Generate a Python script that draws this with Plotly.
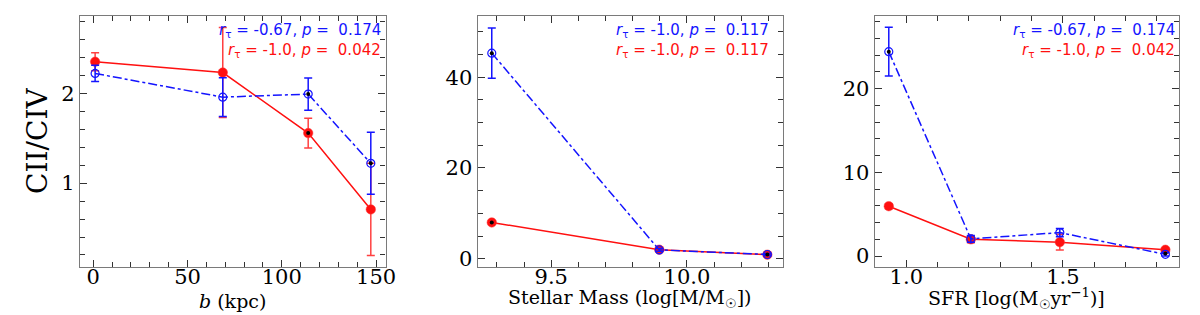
import plotly.graph_objects as go

# Panel 1: impact parameter b (kpc)
b_kpc = [1, 68.7, 114, 147.2]
b_blue = [2.22, 1.956, 1.99, 1.22]
b_blue_err = [0.09, 0.215, 0.18, 0.345]
b_red = [2.35, 2.23, 1.556, 0.707]
b_red_err = [0.10, 0.50, 0.165, 0.513]
b_black_x = [114, 147.2, 114]
b_black_y = [1.99, 1.22, 1.556]

# Panel 2: stellar mass
mass = [9.281, 9.898, 10.296]
mass_blue = [45.3, 1.96, 0.94]
mass_blue_err = [5.55, 0.3, 0.2]
mass_red = [8.0, 2.0, 0.9]
mass_red_err = [0.3, 0.2, 0.15]
mass_black_x = [9.281, 9.281, 10.296]
mass_black_y = [45.3, 8.0, 0.94]

# Panel 3: SFR
sfr = [0.944, 1.206, 1.49, 1.827]
sfr_blue = [24.4, 2.05, 2.8, 0.2]
sfr_blue_err = [2.9, 0.4, 0.5, 0.2]
sfr_red = [5.95, 2.0, 1.66, 0.75]
sfr_red_err = [0.3, 0.4, 0.95, 0.2]
sfr_black_x = [0.944, 1.827]
sfr_black_y = [24.4, 0.3]

stats_blue = ["-0.67", "0.174", "-1.0", "0.117", "-0.67", "0.174"]
stats_red = ["-1.0", "0.042", "-1.0", "0.117", "-1.0", "0.042"]

BLUE = "#1414ff"
RED = "#ff1010"

W, H = 1200, 315
panels = [
    dict(x=b_kpc, yb=b_blue, eb=b_blue_err, yr=b_red, er=b_red_err,
         kx=b_black_x, ky=b_black_y, px=(72.7, 381), xf="d",
         xr=[-7, 155], yrng=[0.07, 2.86], xd=50, xm=10, yd=1, ym=0.2),
    dict(x=mass, yb=mass_blue, eb=mass_blue_err, yr=mass_red, er=mass_red_err,
         kx=mass_black_x, ky=mass_black_y, px=(474, 782), xf=".1f",
         xr=[9.229, 10.353], yrng=[-1.74, 53.5], xd=0.5, xm=0.1, yd=20, ym=5),
    dict(x=sfr, yb=sfr_blue, eb=sfr_blue_err, yr=sfr_red, er=sfr_red_err,
         kx=sfr_black_x, ky=sfr_black_y, px=(874.7, 1182), xf=".1f",
         xr=[0.899, 1.871], yrng=[-1.27, 28.67], xd=0.5, xm=0.1, yd=10, ym=2),
]

fig = go.Figure()
ytop, ybot = 8, 262
layout = {}
for i, p in enumerate(panels):
    sfx = "" if i == 0 else str(i + 1)
    xa, ya = "x" + sfx, "y" + sfx
    fig.add_trace(go.Scatter(
        x=p["x"], y=p["yr"], xaxis=xa, yaxis=ya, mode="lines+markers",
        line=dict(color=RED, width=1.5),
        marker=dict(color=RED, size=9.5, line=dict(color="rgba(255,60,60,0.5)", width=1)),
        error_y=dict(type="data", array=p["er"], color="rgba(255,30,30,0.85)",
                     thickness=1.5, width=4),
        showlegend=False))
    fig.add_trace(go.Scatter(
        x=p["x"], y=p["yb"], xaxis=xa, yaxis=ya, mode="lines+markers",
        line=dict(color=BLUE, width=1.5, dash="dashdot"),
        marker=dict(color=BLUE, size=8, symbol="circle-open", line=dict(width=1.2)),
        error_y=dict(type="data", array=p["eb"], color=BLUE, thickness=1.5, width=4),
        showlegend=False))
    fig.add_trace(go.Scatter(
        x=p["kx"], y=p["ky"], xaxis=xa, yaxis=ya, mode="markers",
        marker=dict(color="black", size=4), showlegend=False))

    axcommon = dict(showline=True, linecolor="#7a7a7a", linewidth=1.2, mirror="allticks",
                    ticks="inside", ticklen=7, tickwidth=1, tickcolor="#333",
                    showgrid=False, zeroline=False,
                    tickfont=dict(family="DejaVu Serif", size=21, color="black"))
    layout["xaxis" + sfx] = dict(
        axcommon, domain=[p["px"][0] / W, p["px"][1] / W], range=p["xr"],
        anchor=ya, tick0=0, dtick=p["xd"], tickformat=p["xf"], ticklabelstandoff=-9,
        minor=dict(dtick=p["xm"], tick0=0, ticks="inside", ticklen=5, tickcolor="#333"))
    layout["yaxis" + sfx] = dict(
        axcommon, domain=[1 - ybot / H, 1 - ytop / H], range=p["yrng"],
        anchor=xa, tick0=0, dtick=p["yd"],
        minor=dict(dtick=p["ym"], tick0=0, ticks="inside", ticklen=5, tickcolor="#333"))

annotations = []
right_px = [378.3, 770, 1180]
for i in range(3):
    annotations.append(dict(
        xref="paper", yref="paper", x=right_px[i] / W, y=1 - 22.7 / H,
        xanchor="right", yanchor="middle", showarrow=False,
        text="<i>r</i><sub>τ</sub> = %s, <i>p</i> =\u00a0 %s" % (stats_blue[2 * i], stats_blue[2 * i + 1]),
        font=dict(family="DejaVu Sans", size=15, color=BLUE)))
    annotations.append(dict(
        xref="paper", yref="paper", x=right_px[i] / W, y=1 - 42.7 / H,
        xanchor="right", yanchor="middle", showarrow=False,
        text="<i>r</i><sub>τ</sub> = %s, <i>p</i> =\u00a0 %s" % (stats_red[2 * i], stats_red[2 * i + 1]),
        font=dict(family="DejaVu Sans", size=15, color=RED)))

xtitles = [
    ("<i>b</i> (kpc)", 226.7, 297),
    ("Stellar Mass (log[M/M<sub>☉</sub>])", 627.5, 294),
    ("SFR [log(M<sub>☉</sub>yr<sup>−1</sup>)]", 1017.5, 294),
]
for t, xc, yc in xtitles:
    annotations.append(dict(
        xref="paper", yref="paper", x=xc / W, y=1 - yc / H,
        xanchor="center", yanchor="middle", showarrow=False, text=t,
        font=dict(family="DejaVu Serif", size=19, color="black")))

annotations.append(dict(
    xref="paper", yref="paper", x=30 / W, y=1 - 135 / H, textangle=-90,
    xanchor="center", yanchor="middle", showarrow=False, text="CII/CIV",
    font=dict(family="DejaVu Serif", size=28, color="black")))

fig.update_layout(width=W, height=H, margin=dict(l=0, r=0, t=0, b=0),
                  plot_bgcolor="white", paper_bgcolor="white",
                  annotations=annotations, **layout)
fig.write_html("out.html")
